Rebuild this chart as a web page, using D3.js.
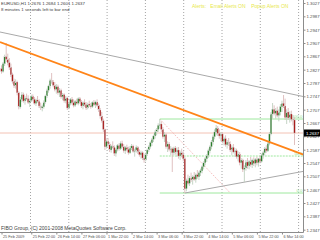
<!DOCTYPE html>
<html>
<head>
<meta charset="utf-8">
<script src="https://cdn.jsdelivr.net/npm/d3@7"></script>
<style>
  body { margin: 0; background: #fff; }
  svg { display: block; }
  text { font-family: "Liberation Sans", Arial, sans-serif; }
</style>
</head>
<body>
<svg width="320" height="240"></svg>
<script>
// EURUSD H1 bars, prices in points (1/10000)
var opens = [12830,12822,12845,12866,12858,12848,12834,12812,12792,12778,12790,12758,
  12715,12738,12752,12733,12742,12740,12729,12735,12747,12738,12726,12736,12732,12718,12712,12716,
  12730,12748,12765,12778,12795,12790,
  12780,12768,12776,12758,12765,12746,12752,12734,12742,12712,12726,12738,12728,12720,12732,12726,12740,12730,12718,12728,12722,12712,12724,12720,12716,12729,12722,12730,12720,
  12706,12688,12674,12648,
  12596,12612,12604,12586,12598,12594,12576,12588,12600,12590,12606,12596,12584,12594,12588,12578,12592,12598,12582,12586,12594,12580,12572,12578,12562,12556,
  12574,12586,12596,12608,12618,12628,12640,12648,12660,
  12664,12648,12626,12632,12596,12604,12588,12590,12578,12592,12580,12586,12568,12578,12572,
  12560,
  12470,12494,12486,12502,12496,12506,12498,12512,12506,12518,
  12524,12536,12548,12560,12570,12584,12596,12610,12626,12640,12652,
  12636,12628,12634,12612,12620,12602,12610,12604,12586,12594,12580,12584,12566,12574,12548,12556,12528,
  12532,12550,12538,12552,12542,12556,12546,12558,12548,12560,12552,12570,12578,12590,12584,
  12606,12634,12694,12708,
  12696,12704,12690,12700,12716,12726,12718,12684,12700,12682,12694,12678,12676];
var highs = [12840,12850,12872,12907,12875,12862,12845,12818,12800,12798,12794,12762,
  12745,12760,12758,12748,12755,12750,12740,12752,12753,12745,12740,12748,12738,12728,12722,12735,
  12752,12770,12782,12800,12817,12796,
  12790,12784,12782,12772,12770,12757,12756,12748,12746,12730,12742,12745,12738,12736,12740,12744,12745,12736,12732,12738,12730,12728,12734,12727,12732,12736,12734,12738,12726,
  12712,12700,12680,12650,
  12618,12622,12610,12602,12612,12600,12592,12604,12606,12612,12614,12604,12598,12602,12596,12598,12604,12602,12590,12600,12598,12588,12584,12582,12572,12578,
  12590,12600,12612,12622,12632,12645,12652,12666,12679,
  12672,12655,12640,12636,12612,12610,12598,12594,12596,12598,12594,12595,12584,12590,12582,
  12566,
  12500,12512,12508,12518,12510,12520,12516,12526,12522,12530,
  12540,12552,12565,12574,12590,12600,12616,12632,12648,12661,12658,
  12648,12640,12638,12626,12630,12616,12622,12612,12600,12604,12592,12590,12582,12580,12562,12560,12540,
  12556,12562,12556,12565,12560,12564,12562,12566,12562,12570,12575,12584,12595,12600,12612,
  12640,12700,12727,12720,
  12712,12716,12708,12724,12734,12751,12740,12708,12712,12702,12704,12690,12684];
var lows = [12815,12818,12838,12850,12840,12826,12805,12785,12772,12770,12750,12708,
  12710,12730,12728,12722,12735,12724,12715,12730,12732,12722,12718,12728,12712,12706,12702,12710,
  12725,12742,12758,12770,12785,12774,
  12762,12755,12752,12745,12740,12735,12728,12726,12706,12708,12720,12722,12714,12715,12722,12720,12725,12712,12708,12716,12706,12708,12715,12710,12712,12718,12712,12716,12700,
  12680,12668,12640,12586,
  12590,12598,12580,12578,12590,12568,12566,12582,12584,12586,12592,12578,12574,12582,12572,12574,12586,12578,12566,12578,12574,12566,12560,12556,12548,12552,
  12568,12580,12590,12598,12610,12620,12630,12640,12650,
  12640,12620,12610,12590,12580,12582,12570,12520,12570,12572,12566,12560,12556,12564,12552,
  12457,
  12462,12480,12478,12490,12482,12494,12488,12500,12496,12508,
  12516,12528,12540,12550,12562,12576,12588,12602,12618,12630,12628,
  12620,12612,12606,12600,12596,12590,12598,12580,12570,12576,12565,12560,12552,12540,12530,12520,12490,
  12524,12530,12528,12536,12532,12538,12534,12540,12536,12546,12548,12560,12570,12578,12580,
  12600,12630,12680,12690,
  12680,12684,12672,12690,12700,12712,12676,12664,12676,12668,12672,12660,12601];
var closes = [12822,12845,12866,12858,12848,12834,12812,12792,12778,12790,12758,12715,
  12738,12752,12733,12742,12740,12729,12735,12747,12738,12726,12736,12732,12718,12712,12716,12730,
  12748,12765,12778,12795,12790,12780,
  12768,12776,12758,12765,12746,12752,12734,12742,12712,12726,12738,12728,12720,12732,12726,12740,12730,12718,12728,12722,12712,12724,12720,12716,12729,12722,12730,12720,12706,
  12688,12674,12648,12596,
  12612,12604,12586,12598,12594,12576,12588,12600,12590,12606,12596,12584,12594,12588,12578,12592,12598,12582,12586,12594,12580,12572,12578,12562,12556,12574,
  12586,12596,12608,12618,12628,12640,12648,12660,12664,
  12648,12626,12632,12596,12604,12588,12590,12578,12592,12580,12586,12568,12578,12572,12560,
  12470,
  12494,12486,12502,12496,12506,12498,12512,12506,12518,12524,
  12536,12548,12560,12570,12584,12596,12610,12626,12640,12652,12636,
  12628,12634,12612,12620,12602,12610,12604,12586,12594,12580,12584,12566,12574,12548,12556,12528,12532,
  12550,12538,12552,12542,12556,12546,12558,12548,12560,12552,12570,12578,12590,12584,12606,
  12634,12694,12708,12696,
  12704,12690,12700,12716,12726,12718,12684,12700,12682,12694,12678,12676,12637];

var priceTicks = [1.3027, 1.2987, 1.2947, 1.2907, 1.2867, 1.2827, 1.2787, 1.2747, 1.2707,
  1.2667, 1.2627, 1.2587, 1.2547, 1.2507, 1.2467, 1.2427, 1.2387, 1.2347];
var timeTickBars = [0, 19, 35, 51, 67, 83, 99, 115, 131, 147, 163, 179];
var timeTickLabels = ["25 Feb 2009", "25 Feb 22:00", "26 Feb 14:00", "27 Feb 06:00", "1 Mar 22:00",
  "2 Mar 14:00", "3 Mar 06:00", "3 Mar 22:00", "4 Mar 14:00", "5 Mar 06:00", "5 Mar 22:00", "6 Mar 14:00"];

// objects drawn on the chart, as [bar, price]
var orangeLine = [[0, 1.2908], [187, 1.2582]];
var upperLine = [[0, 1.2939], [187, 1.2752]];
var supportLine = [[117, 1.2457], [187, 1.2517]];
var fiboPoints = [[101, 1.2679], [146, 1.2457]];
var fiboLevels = [100, 50, 0];
var bid = 1.2637;

var W = 303.5, H = 232;
var svg = d3.select("svg");

var x = d3.scaleLinear().domain([0, 187]).range([1.5, 294.5]);
var y = d3.scaleLinear().domain([1.2340, 1.3036]).range([H, 0]);
var p = function(v) { return v / 10000; };

svg.append("defs").append("clipPath").attr("id", "plot")
  .append("rect").attr("width", W).attr("height", H);

var plot = svg.append("g").attr("clip-path", "url(#plot)");

// vertical dotted grid
plot.selectAll("line.grid").data(d3.range(8)).enter()
  .append("line")
  .attr("x1", function(k) { return 30.5 + k * 38.3; })
  .attr("x2", function(k) { return 30.5 + k * 38.3; })
  .attr("y1", 0).attr("y2", H)
  .attr("stroke", "#a4a4a4").attr("stroke-width", 1)
  .attr("stroke-dasharray", "1,2");

// bid line
plot.append("line")
  .attr("x1", 0).attr("x2", W)
  .attr("y1", y(bid)).attr("y2", y(bid))
  .attr("stroke", "#f3c2b4").attr("stroke-width", 1);

// fibo
var fHi = fiboPoints[0][1], fLo = fiboPoints[1][1];
plot.append("line")
  .attr("x1", x(fiboPoints[0][0])).attr("y1", y(fHi))
  .attr("x2", x(fiboPoints[1][0])).attr("y2", y(fLo))
  .attr("stroke", "#f2a8a8").attr("stroke-width", 1)
  .attr("stroke-dasharray", "1,1.5");

plot.selectAll("line.fibo").data(fiboLevels).enter()
  .append("line")
  .attr("x1", x(fiboPoints[0][0])).attr("x2", W)
  .attr("y1", function(l) { return y(fLo + (fHi - fLo) * l / 100); })
  .attr("y2", function(l) { return y(fLo + (fHi - fLo) * l / 100); })
  .attr("stroke", "#9ee89e").attr("stroke-width", 1)
  .attr("stroke-dasharray", function(l) { return l == 50 ? "2,1" : null; });

plot.selectAll("text.fibo").data(fiboLevels).enter()
  .append("text")
  .attr("x", W - 1)
  .attr("y", function(l) { return y(fLo + (fHi - fLo) * l / 100) - 1; })
  .attr("text-anchor", "end")
  .attr("font-size", 4.3)
  .attr("fill", "#8ee08e")
  .text(function(l) { return l.toFixed(1); });

// trend lines
function ray(pts, fromLeft) {
  var x1 = x(pts[0][0]), y1 = y(pts[0][1]);
  var x2 = x(pts[1][0]), y2 = y(pts[1][1]);
  var k = (y2 - y1) / (x2 - x1);
  var xs = fromLeft ? 0 : x1;
  return "M" + xs + "," + (y1 + k * (xs - x1)) + "L" + W + "," + (y1 + k * (W - x1));
}

plot.append("path").attr("d", ray(upperLine, true))
  .attr("stroke", "#a9a9a9").attr("stroke-width", 1).attr("fill", "none");
plot.append("path").attr("d", ray(supportLine, false))
  .attr("stroke", "#a9a9a9").attr("stroke-width", 1).attr("fill", "none");

// candles
var bars = d3.range(opens.length);
var up = function(i) { return closes[i] >= opens[i]; };
var candles = plot.selectAll("g.bar").data(bars).enter().append("g");

candles.append("line")
  .attr("x1", function(i) { return x(i); })
  .attr("x2", function(i) { return x(i); })
  .attr("y1", function(i) { return y(p(highs[i])); })
  .attr("y2", function(i) { return y(p(lows[i])); })
  .attr("stroke", function(i) { return up(i) ? "#bfd0bf" : "#dcbaba"; })
  .attr("stroke-width", 0.9);

candles.append("rect")
  .attr("x", function(i) { return x(i) - 0.75; })
  .attr("width", 1.5)
  .attr("y", function(i) { return y(p(Math.max(opens[i], closes[i]))); })
  .attr("height", function(i) { return Math.max(0.6, Math.abs(y(p(opens[i])) - y(p(closes[i])))); })
  .attr("fill", function(i) { return up(i) ? "#2a7d2a" : "#a81c1c"; })
  .attr("stroke", "#d2d2d2").attr("stroke-width", 0.3);

plot.append("path").attr("d", ray(orangeLine, true))
  .attr("stroke", "#ff8418").attr("stroke-width", 1.7).attr("fill", "none");

// frame
svg.append("path")
  .attr("d", "M0," + (H + 0.5) + "H" + W + "V0")
  .attr("stroke", "#8c8c8c").attr("stroke-width", 1).attr("fill", "none");

// price axis
var yAxis = svg.append("g").attr("transform", "translate(" + W + ",0)")
  .call(d3.axisRight(y).tickValues(priceTicks).tickFormat(d3.format(".4f")).tickSize(2).tickPadding(1));
yAxis.select(".domain").remove();
yAxis.selectAll("line").attr("stroke", "#8c8c8c");
yAxis.selectAll("text").attr("font-size", 4.3).attr("fill", "#505050")
  .attr("font-family", "Liberation Sans, Arial, sans-serif");

// time axis
var xAxis = svg.append("g").attr("transform", "translate(0," + (H + 0.5) + ")")
  .call(d3.axisBottom(x).tickValues(timeTickBars)
    .tickFormat(function(d, i) { return timeTickLabels[i]; }).tickSize(2));
xAxis.select(".domain").remove();
xAxis.selectAll("line").attr("stroke", "#8c8c8c");
xAxis.selectAll("text").attr("font-size", 3.8).attr("fill", "#505050")
  .attr("font-family", "Liberation Sans, Arial, sans-serif")
  .attr("text-anchor", "start").attr("x", 1).attr("y", 2.5).attr("dy", "0.71em");

// bid price box
svg.append("rect").attr("x", W + 0.5).attr("y", y(bid) - 3.5)
  .attr("width", 16).attr("height", 7).attr("fill", "#000");
svg.append("text").attr("x", W + 2.5).attr("y", y(bid) + 1.6)
  .attr("font-size", 4.3).attr("fill", "#fff").text(bid.toFixed(4));

// header texts
var last = opens.length - 1;
svg.append("text").attr("x", 1).attr("y", 5).attr("font-size", 4.4).attr("fill", "#404040")
  .text("EURUSD,H1  " + [opens[last], highs[last], lows[last], closes[last]]
    .map(function(v) { return p(v).toFixed(4); }).join(" "));
svg.append("text").attr("x", 1).attr("y", 10.5).attr("font-size", 4.4).attr("fill", "#404040")
  .text("8 minutes 1 seconds left to bar end");

svg.append("text").attr("x", 192).attr("y", 7.5).attr("font-size", 5).attr("fill", "#e8e84a")
  .attr("xml:space", "preserve")
  .text("Alerts:   Email Alerts ON    Popup Alerts ON");

svg.append("text").attr("x", 1).attr("y", 230).attr("font-size", 5).attr("fill", "#404040")
  .text("FIBO Group, (C) 2001-2008 MetaQuotes Software Corp.");
</script>
</body>
</html>
